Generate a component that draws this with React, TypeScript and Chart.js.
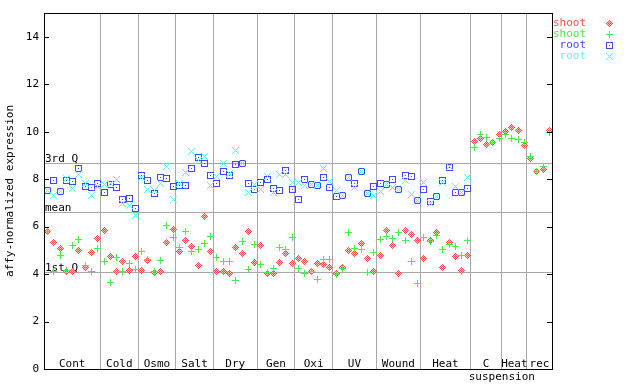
import React, { useEffect, useRef } from "react";
import { Chart, registerables } from "chart.js";
Chart.register(...registerables);

const groupLabels = ["Cont", "Cold", "Osmo", "Salt", "Dry", "Gen", "Oxi", "UV", "Wound", "Heat", "C", "Heat", "rec"];
const groupSizes = [9, 6, 6, 6, 7, 6, 6, 7, 7, 8, 5, 4, 4];
const subLabel = "suspension";
const subLabelAt = 72.5;
const yTicks = [0, 2, 4, 6, 8, 10, 12, 14];
const yTitle = "affy-normalized expression";
const quartileLabels = ["3rd Q", "mean", "1st Q"];
const quartileValues = [8.69, 6.62, 4.09];
const legendLabels = ["shoot", "shoot", "root", "root"];

const shootRed = [
  5.80, 5.35, 5.10, 4.12, 4.15, 5.02, 4.30, 4.95, 5.52,
  5.86, 4.77, 4.12, 4.53, 4.18, 4.77,
  4.18, 4.61, 4.09, 4.15, 5.35, 5.90,
  4.98, 5.44, 5.19, 4.39, 6.45, 4.98,
  4.12, 4.15, 4.06, 5.15, 4.89, 5.83, 4.51,
  5.23, 4.05, 4.05, 4.51, 4.89, 4.47,
  4.69, 4.54, 4.12, 4.47, 4.43, 4.30,
  4.05, 4.30, 5.03, 4.89, 5.31, 4.69, 4.15,
  4.81, 5.87, 5.23, 4.05, 5.87, 5.69, 5.45,
  4.68, 5.45, 5.78, 4.30, 5.35, 4.77, 4.18, 4.81,
  9.61, 9.73, 9.48, 9.57, 9.90,
  10.03, 10.20, 10.07, 9.44,
  8.89, 8.35, 8.43, 10.07,
];
const shootGreen = [
  5.80, 4.15, 4.81, 4.19, 5.23, 5.48, 4.39, 4.11, 5.10,
  4.57, 3.67, 4.72, 4.13, 4.47, 4.22,
  4.96, 4.64, 4.15, 4.60, 6.08, 5.57,
  5.13, 5.82, 4.98, 5.06, 5.31, 5.62,
  4.72, 4.53, 4.53, 3.77, 5.41, 4.22, 5.27,
  4.43, 4.09, 4.27, 5.12, 5.07, 5.57,
  4.27, 4.05, 4.15, 3.80, 4.65, 4.65,
  4.01, 4.26, 5.79, 5.10, 5.07, 4.09, 4.95,
  5.49, 5.61, 5.54, 5.79, 5.45, 4.56, 3.63,
  5.57, 5.38, 5.64, 5.06, 5.28, 5.19, 4.81, 5.44,
  9.37, 9.90, 9.78, 9.57, 9.73,
  9.90, 9.73, 9.69, 9.57,
  8.98, 8.35, 8.57, 9.99,
];
const rootBlue = [
  7.53, 7.97, 7.52, 7.97, 7.92, 8.47, 7.71, 7.67, 7.85,
  7.47, 7.80, 7.67, 7.17, 7.21, 6.79,
  8.18, 7.97, 7.42, 8.09, 8.05, 7.71,
  7.76, 7.76, 8.47, 8.95, 8.68, 8.18,
  7.84, 8.35, 8.18, 8.64, 8.67, 7.84, 7.59,
  7.88, 8.01, 7.63, 7.55, 8.39, 7.59,
  7.17, 8.01, 7.80, 7.76, 8.09, 7.67,
  7.29, 7.33, 8.08, 7.84, 8.33, 7.40, 7.71,
  7.84, 7.78, 8.01, 7.57, 8.18, 8.14, 7.14,
  7.60, 7.07, 7.28, 7.97, 8.51, 7.46, 7.46, 7.61,
];
const rootCyan = [
  7.55, 7.35, 7.52, 8.05, 7.63, 8.23, 7.85, 7.35, 7.70,
  7.80, 7.84, 8.01, 7.00, 6.91, 6.49,
  8.09, 7.59, 7.55, 7.84, 8.56, 7.17,
  7.84, 8.30, 9.19, 8.82, 8.99, 7.76,
  8.14, 8.68, 8.26, 9.24, 8.68, 7.46, 7.80,
  7.59, 8.15, 7.46, 8.22, 8.22, 7.88,
  7.88, 7.76, 7.80, 7.76, 8.47, 7.92,
  7.55, 7.33, 8.08, 7.67, 8.33, 7.40, 7.33,
  7.50, 7.78, 7.67, 7.57, 7.97, 7.38, 7.14,
  7.88, 7.00, 7.28, 7.87, 8.55, 7.73, 7.46, 8.09,
];

const FONT = '11px "DejaVu Sans Mono", monospace';
const COLORS = ["#ff4c4c", "#44f044", "#4646ee", "#5ef2f2"];
const BITMAPS: string[][] = [
  ["...#...", "..#o#..", ".#o#o#.", "#o#o#o#", ".#o#o#.", "..#o#..", "...#..."],
  ["...#...", "...#...", "...#...", "#######", "...#...", "...#...", "...#..."],
  ["#######", "#.....#", "#.....#", "#..#..#", "#.....#", "#.....#", "#######"],
  ["#.....#", ".#...#.", "..#.#..", "...#...", "..#.#..", ".#...#.", "#.....#"],
];

function makeMarker(bits: string[], color: string): HTMLCanvasElement {
  const c = document.createElement("canvas");
  c.width = bits[0].length;
  c.height = bits.length;
  const g = c.getContext("2d")!;
  bits.forEach((row, r) => {
    for (let k = 0; k < row.length; k++) {
      if (row[k] === "#") { g.fillStyle = color; g.fillRect(k, r, 1, 1); }
      else if (row[k] === "o") { g.fillStyle = "#ffc0c0"; g.fillRect(k, r, 1, 1); }
    }
  });
  return c;
}

function toPoints(arr: number[]) {
  return arr.map((v, i) => ({ x: i, y: v }));
}

export default function App() {
  const ref = useRef<HTMLCanvasElement | null>(null);
  useEffect(() => {
    if (!ref.current) return;
    const markers = BITMAPS.map((b, i) => makeMarker(b, COLORS[i]));
    const boundaries: number[] = [];
    let acc = 0;
    groupSizes.forEach((n, i) => {
      acc += n;
      if (i < groupSizes.length - 1) boundaries.push(acc - 0.5);
    });

    let origTranslate: any = null;

    const decor = {
      id: "decor",
      beforeDatasetsDraw(chart: any) {
        const { ctx, chartArea: a, scales } = chart;
        const x = scales.x, y = scales.y;
        ctx.save();
        ctx.strokeStyle = "#a8a8a8";
        ctx.lineWidth = 1;
        ctx.font = FONT;
        quartileValues.forEach((v, i) => {
          const py = Math.round(y.getPixelForValue(v)) + 0.5;
          ctx.beginPath();
          ctx.moveTo(a.left, py);
          ctx.lineTo(a.right, py);
          ctx.stroke();
          ctx.fillStyle = "#000";
          ctx.textAlign = "left";
          ctx.textBaseline = "alphabetic";
          ctx.fillText(quartileLabels[i], a.left + 1, py - 1.5);
        });
        let start = 0;
        ctx.fillStyle = "#000";
        ctx.textAlign = "center";
        ctx.textBaseline = "alphabetic";
        groupSizes.forEach((n, i) => {
          const c = start + (n - 1) / 2;
          ctx.fillText(groupLabels[i], x.getPixelForValue(c), a.bottom - 2);
          start += n;
        });
        ctx.fillText(subLabel, x.getPixelForValue(subLabelAt), a.bottom + 11);
        ctx.restore();
        // crisp bitmap markers: snap point translations to whole pixels
        origTranslate = ctx.translate;
        ctx.translate = function (tx: number, ty: number) {
          return origTranslate.call(this, Math.round(tx) + 0.5, Math.round(ty) + 0.5);
        };
      },
      afterDatasetsDraw(chart: any) {
        if (origTranslate) {
          chart.ctx.translate = origTranslate;
          origTranslate = null;
        }
      },
      afterDraw(chart: any) {
        const { ctx, chartArea: a, scales } = chart;
        const y = scales.y;
        ctx.save();
        ctx.strokeStyle = "#000";
        ctx.lineWidth = 1;
        ctx.strokeRect(a.left + 0.5, a.top + 0.5, a.right - a.left, a.bottom - a.top);
        yTicks.forEach((v) => {
          const py = Math.round(y.getPixelForValue(v)) + 0.5;
          ctx.beginPath();
          ctx.moveTo(a.left, py);
          ctx.lineTo(a.left + 5, py);
          ctx.moveTo(a.right - 5, py);
          ctx.lineTo(a.right + 1, py);
          ctx.stroke();
        });
        ctx.font = FONT;
        ctx.fillStyle = "#000";
        ctx.translate(10, (a.top + a.bottom) / 2);
        ctx.rotate(-Math.PI / 2);
        ctx.textAlign = "center";
        ctx.textBaseline = "middle";
        ctx.fillText(yTitle, 0, 0);
        ctx.setTransform(1, 0, 0, 1, 0, 0);
        legendLabels.forEach((t, i) => {
          const ly = 23.5 + i * 11;
          ctx.fillStyle = COLORS[i];
          ctx.textAlign = "right";
          ctx.textBaseline = "middle";
          ctx.fillText(t, 586, ly);
          ctx.drawImage(markers[i], 606, Math.round(ly - 3.5));
        });
        ctx.restore();
      },
    };

    const series = [shootRed, shootGreen, rootBlue, rootCyan];
    const chart = new Chart(ref.current, {
      type: "scatter",
      data: {
        datasets: series.map((s, i) => ({
          label: legendLabels[i],
          data: toPoints(s),
          pointStyle: markers[i] as any,
          pointRadius: 3.5,
          showLine: false,
          order: 3 - i,
        })),
      },
      options: {
        animation: false,
        responsive: false,
        layout: { padding: { top: 13, right: 88, left: 0, bottom: 0 } },
        plugins: { legend: { display: false }, tooltip: { enabled: false } },
        scales: {
          x: {
            type: "linear",
            min: -0.5,
            max: 80.5,
            border: { display: false },
            grid: { color: "#a8a8a8", drawTicks: false, lineWidth: 1 },
            ticks: { display: false },
            afterBuildTicks: (s: any) => { s.ticks = boundaries.map((v) => ({ value: v })); },
            afterFit: (s: any) => { s.height = 15; },
          },
          y: {
            type: "linear",
            min: 0,
            max: 15,
            border: { display: false },
            grid: { display: false, drawTicks: false },
            ticks: { color: "#000", padding: 5, font: { family: "DejaVu Sans Mono", size: 11 } },
            afterBuildTicks: (s: any) => { s.ticks = yTicks.map((v) => ({ value: v })); },
            afterFit: (s: any) => { s.width = 44; },
          },
        },
      },
      plugins: [decor],
    });
    return () => chart.destroy();
  }, []);

  return (
    <div style={{ position: "absolute", left: 0, top: 0, width: 640, height: 384, background: "#fff" }}>
      <canvas ref={ref} width={640} height={384} style={{ width: 640, height: 384 }} />
    </div>
  );
}
